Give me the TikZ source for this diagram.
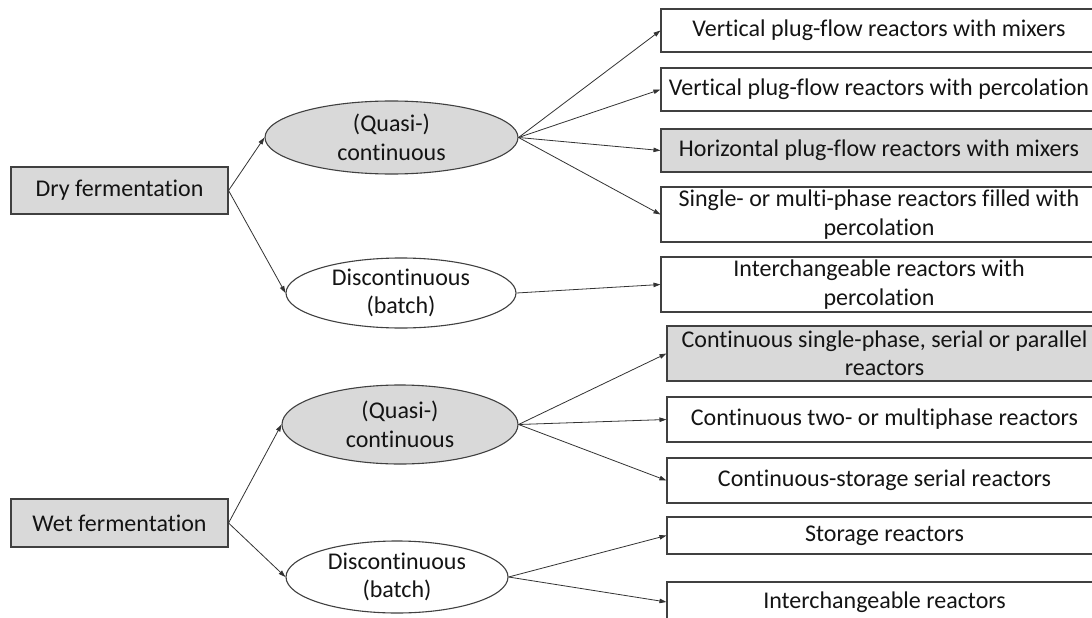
\documentclass[tikz,border=0pt]{standalone}
\usepackage{fontspec}
\setmainfont{Carlito}[Ligatures=NoCommon]
\usetikzlibrary{shapes.geometric,arrows.meta}
\definecolor{boxgray}{HTML}{D9D9D9}
\definecolor{edgegray}{HTML}{404040}
\definecolor{txt}{HTML}{141414}
\tikzset{
  basefont/.style={font=\fontsize{24}{28.5}\selectfont, text=txt},
  rbox/.style={basefont, draw=edgegray, line width=1.1pt, rectangle, inner sep=0pt, align=center},
  gbox/.style={rbox, fill=boxgray},
  ell/.style={draw=edgegray, line width=1.1pt, ellipse, inner sep=0pt},
  gell/.style={ell, fill=boxgray},
  conn/.style={draw=black!80, line width=0.8pt, -{Triangle[length=7pt,width=4.5pt]}},
  elltext/.style={basefont, align=center}
}
\begin{document}
\begin{tikzpicture}[x=1pt,y=-1pt]
\useasboundingbox (0,0) rectangle (1092,618);
\clip (0,0) rectangle (1092,618);
\fill[white] (0,0) rectangle (1092,618);
% left boxes
\node[gbox, minimum width=217pt, minimum height=47pt] (dry) at (119.5,190.5) {Dry fermentation};
\node[gbox, minimum width=217pt, minimum height=48pt] (wet) at (119.5,523) {Wet fermentation};
% ellipses
\node[gell, minimum width=253pt, minimum height=73pt, label={[elltext]center:{(Quasi-)\\continuous}}] (q1) at (391.5,137.5) {};
\node[ell, minimum width=230pt, minimum height=70pt, label={[elltext]center:{Discontinuous\\(batch)}}] (d1) at (401,293) {};
\node[gell, minimum width=236pt, minimum height=79pt, label={[elltext]center:{(Quasi-)\\continuous}}] (q2) at (400,424.5) {};
\node[ell, minimum width=222pt, minimum height=72pt, label={[elltext]center:{Discontinuous\\(batch)}}] (d2) at (397,577) {};
% right boxes (dry)
\node[rbox, minimum width=436pt, minimum height=43pt] (b1) at (879,30.5) {Vertical plug-flow reactors with mixers};
\node[rbox, minimum width=436pt, minimum height=43pt] (b2) at (879,89.5) {Vertical plug-flow reactors with percolation};
\node[gbox, minimum width=436pt, minimum height=43pt] (b3) at (879,150.5) {Horizontal plug-flow reactors with mixers};
\node[rbox, minimum width=436pt, minimum height=55pt] (b4) at (879,214.5) {Single- or multi-phase reactors filled with\\percolation};
\node[rbox, minimum width=436pt, minimum height=55pt] (b5) at (879,284.5) {Interchangeable reactors with\\percolation};
% right boxes (wet)
\node[gbox, minimum width=435pt, minimum height=55pt] (b6) at (884.5,353.5) {Continuous single-phase, serial or parallel\\reactors};
\node[rbox, minimum width=435pt, minimum height=45pt] (b7) at (884.5,419.5) {Continuous two- or multiphase reactors};
\node[rbox, minimum width=435pt, minimum height=45pt] (b8) at (884.5,480.5) {Continuous-storage serial reactors};
\node[rbox, minimum width=435pt, minimum height=37pt] (b9) at (884.5,535.5) {Storage reactors};
\node[rbox, minimum width=435pt, minimum height=40pt] (b10) at (884.5,602) {Interchangeable reactors};
% connectors
\draw[conn] (dry.east) -- (q1.west);
\draw[conn] (dry.east) -- (d1.west);
\draw[conn] (wet.east) -- (q2.west);
\draw[conn] (wet.east) -- (d2.west);
\draw[conn] (q1.east) -- (b1.west);
\draw[conn] (q1.east) -- (b2.west);
\draw[conn] (q1.east) -- (b3.west);
\draw[conn] (q1.east) -- (b4.west);
\draw[conn] (d1.east) -- (b5.west);
\draw[conn] (q2.east) -- (b6.west);
\draw[conn] (q2.east) -- (b7.west);
\draw[conn] (q2.east) -- (b8.west);
\draw[conn] (d2.east) -- (b9.west);
\draw[conn] (d2.east) -- (b10.west);
\end{tikzpicture}
\end{document}
